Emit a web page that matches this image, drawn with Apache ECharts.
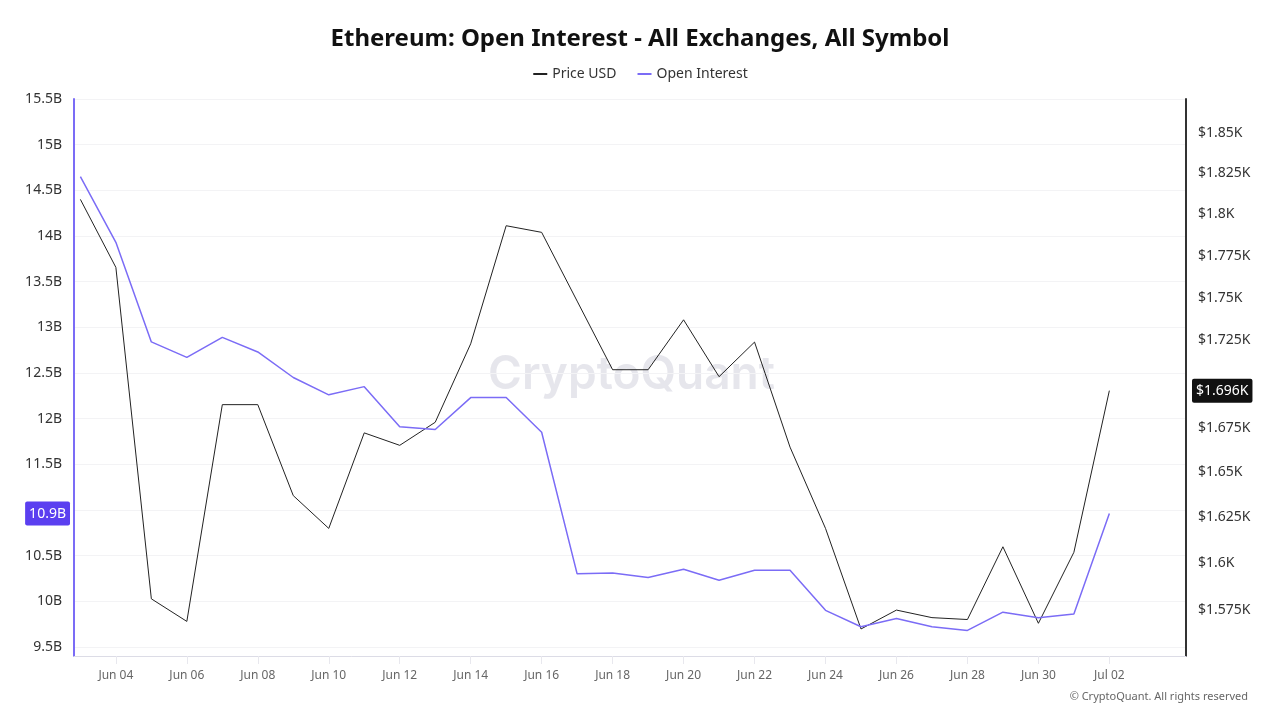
<!DOCTYPE html>
<html>
<head>
<meta charset="utf-8">
<title>Ethereum: Open Interest</title>
<script src="https://cdn.jsdelivr.net/npm/echarts@6/dist/echarts.min.js"></script>
<style>
  html, body { margin: 0; padding: 0; background: #fff; }
  #js_chart { width: 1280px; height: 720px; }
</style>
</head>
<body>
<div id="js_chart"></div>
<script>
// daily values, Jun 03 - Jul 02
var dates = ['2023-06-03','2023-06-04','2023-06-05','2023-06-06','2023-06-07','2023-06-08','2023-06-09','2023-06-10',
             '2023-06-11','2023-06-12','2023-06-13','2023-06-14','2023-06-15','2023-06-16','2023-06-17','2023-06-18',
             '2023-06-19','2023-06-20','2023-06-21','2023-06-22','2023-06-23','2023-06-24','2023-06-25','2023-06-26',
             '2023-06-27','2023-06-28','2023-06-29','2023-06-30','2023-07-01','2023-07-02'];
var priceUsd = [1809, 1768, 1581, 1569, 1688, 1688, 1637, 1619, 1672, 1665, 1678, 1723, 1793, 1789, 1748,
                1708, 1708, 1737, 1704, 1724, 1664, 1619, 1565, 1575, 1571, 1570, 1609, 1568, 1606, 1696];
// open interest in billions USD
var openInterest = [14.65, 13.93, 12.84, 12.67, 12.89, 12.73, 12.45, 12.26, 12.35, 11.91, 11.88, 12.23, 12.23, 11.85, 10.30,
                    10.31, 10.26, 10.35, 10.23, 10.34, 10.34, 9.90, 9.72, 9.81, 9.72, 9.68, 9.88, 9.82, 9.86, 10.96];

var xTicks = ['2023-06-04','2023-06-06','2023-06-08','2023-06-10','2023-06-12','2023-06-14','2023-06-16','2023-06-18',
              '2023-06-20','2023-06-22','2023-06-24','2023-06-26','2023-06-28','2023-06-30','2023-07-02'];
var oiTicks = [9.5, 10, 10.5, 11, 11.5, 12, 12.5, 13, 13.5, 14, 14.5, 15, 15.5];
// $1.7K sits under the last-price badge, so it is not listed
var priceTicks = [1575, 1600, 1625, 1650, 1675, 1725, 1750, 1775, 1800, 1825, 1850];

var months = ['Jan','Feb','Mar','Apr','May','Jun','Jul','Aug','Sep','Oct','Nov','Dec'];
var DAY = 86400000;

function toTs(s) {
    var p = s.split('-');
    return Date.UTC(+p[0], +p[1] - 1, +p[2]);
}

var priceData = dates.map(function (d, i) { return [toTs(d), priceUsd[i]]; });
var oiData = dates.map(function (d, i) { return [toTs(d), openInterest[i]]; });
var xTickTs = xTicks.map(toTs);

var lastPrice = priceUsd[priceUsd.length - 1];
var lastOi = openInterest[openInterest.length - 1];

var purple = '#7b6cf6';
var clear = 'rgba(0,0,0,0)';

var myChart = echarts.init(document.getElementById('js_chart'));
var option = {
    animation: false,
    backgroundColor: '#fff',
    textStyle: { fontFamily: 'Noto Sans' },
    title: {
        text: 'Ethereum: Open Interest - All Exchanges, All Symbol',
        left: 'center',
        top: 22,
        textStyle: { fontSize: 24, fontWeight: 'bold', color: '#111', fontFamily: 'Noto Sans' }
    },
    legend: {
        top: 62,
        left: 'center',
        itemWidth: 14,
        itemHeight: 2,
        itemGap: 20,
        textStyle: { fontSize: 14, color: '#333' },
        data: ['Price USD', 'Open Interest']
    },
    grid: {
        left: 74,
        right: 94,
        top: 99,
        bottom: 64,
        outerBoundsMode: 'none'
    },
    xAxis: {
        type: 'value',
        min: toTs(dates[0]) - 0.18 * DAY,
        max: toTs(dates[dates.length - 1]) + 2.16 * DAY,
        axisLine: { lineStyle: { color: '#dcdce6', width: 1 } },
        axisTick: { show: true, length: 8, customValues: xTickTs, lineStyle: { color: '#e8e8ee' } },
        axisLabel: {
            customValues: xTickTs,
            color: '#666',
            fontSize: 12,
            margin: 14,
            formatter: function (v) {
                var d = new Date(v);
                var day = d.getUTCDate();
                return months[d.getUTCMonth()] + ' ' + (day < 10 ? '0' + day : day);
            }
        },
        splitLine: { show: false }
    },
    yAxis: [
        {
            type: 'value',
            position: 'left',
            min: 9.4,
            max: 15.5,
            axisLine: { show: true, lineStyle: { color: purple, width: 2 } },
            axisTick: { show: false, customValues: oiTicks },
            axisLabel: {
                customValues: oiTicks,
                color: '#333',
                fontSize: 14,
                margin: 12,
                formatter: function (v) { return v + 'B'; }
            },
            splitLine: { show: true, lineStyle: { color: '#f3f3f5', width: 1 } }
        },
        {
            type: 'log',
            position: 'right',
            min: 1550.8,
            max: 1871.3,
            axisLine: { show: true, lineStyle: { color: '#333', width: 2 } },
            axisTick: { show: false, customValues: priceTicks },
            axisLabel: {
                customValues: priceTicks,
                color: '#333',
                fontSize: 14,
                margin: 12,
                formatter: function (v) { return '$' + (v / 1000) + 'K'; }
            },
            splitLine: { show: false }
        }
    ],
    graphic: [
        {
            type: 'text',
            left: 488,
            top: 352,
            z: 0,
            silent: true,
            style: {
                text: 'CryptoQuant',
                fill: 'rgba(200, 200, 212, 0.45)',
                font: '600 46px Inter'
            }
        },
        {
            type: 'text',
            right: 32,
            top: 691,
            silent: true,
            style: {
                text: '\u00a9 CryptoQuant. All rights reserved',
                fill: '#666',
                font: '11px "Noto Sans"'
            }
        }
    ],
    series: [
        {
            name: 'Price USD',
            type: 'line',
            yAxisIndex: 1,
            symbol: 'none',
            data: priceData,
            itemStyle: { color: '#222' },
            lineStyle: { color: '#222', width: 1 },
            markLine: {
                silent: true,
                symbol: 'none',
                animation: false,
                lineStyle: { color: clear, width: 1, type: 'solid' },
                data: [{ yAxis: lastPrice }],
                label: {
                    show: true,
                    position: 'end',
                    distance: 6,
                    color: '#fff',
                    fontSize: 14,
                    backgroundColor: '#111',
                    padding: [5, 4],
                    borderRadius: 2,
                    formatter: function () { return '$' + (lastPrice / 1000).toFixed(3) + 'K'; }
                }
            }
        },
        {
            name: 'Open Interest',
            type: 'line',
            yAxisIndex: 0,
            symbol: 'none',
            data: oiData,
            itemStyle: { color: purple },
            lineStyle: { color: purple, width: 1.5 },
            markLine: {
                silent: true,
                symbol: 'none',
                animation: false,
                lineStyle: { color: clear, width: 1, type: 'solid' },
                data: [{ yAxis: lastOi }],
                label: {
                    show: true,
                    position: 'start',
                    distance: 4,
                    color: '#fff',
                    fontSize: 14,
                    backgroundColor: '#5b3ff0',
                    padding: [5, 4],
                    borderRadius: 2,
                    formatter: function () { return Math.floor(lastOi * 10) / 10 + 'B'; }
                }
            }
        }
    ]
};
myChart.setOption(option);
</script>
</body>
</html>
